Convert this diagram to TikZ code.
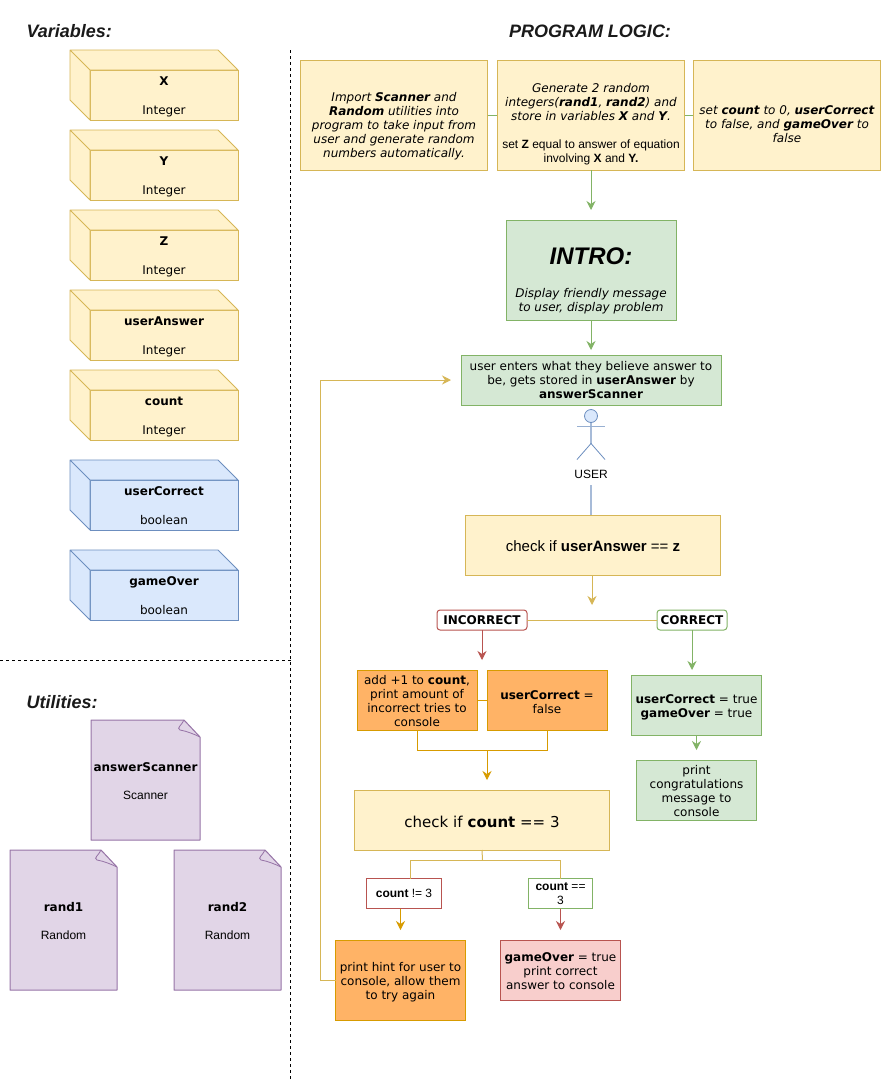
\documentclass[tikz,border=0pt]{standalone}
\usepackage{fontspec}
\setmainfont{DejaVu Sans}
\newfontfamily\helv{Liberation Sans}
\usetikzlibrary{arrows.meta,positioning,backgrounds}
\definecolor{yellowfill}{HTML}{FFF2CC}
\definecolor{yellowline}{HTML}{D6B656}
\definecolor{greenfill}{HTML}{D5E8D4}
\definecolor{greenline}{HTML}{82B366}
\definecolor{bluefill}{HTML}{DAE8FC}
\definecolor{blueline}{HTML}{6C8EBF}
\definecolor{purplefill}{HTML}{E1D5E7}
\definecolor{purpleline}{HTML}{9673A6}
\definecolor{redfill}{HTML}{F8CECC}
\definecolor{redline}{HTML}{B85450}
\definecolor{orangefill}{HTML}{FFB366}
\definecolor{orangeline}{HTML}{D79B00}
\definecolor{titleink}{HTML}{1A1A1A}

\begin{document}
\begin{tikzpicture}[x=1pt,y=-1pt,font=\fontsize{12}{14}\selectfont,
 base/.style={outer sep=0pt,inner sep=2pt,align=center,line width=1pt},
 yellowbox/.style={base,text depth=0pt,draw=yellowline,fill=yellowfill},
 greenbox/.style={base,text depth=0pt,draw=greenline,fill=greenfill},
 orangebox/.style={base,text depth=0pt,draw=orangeline,fill=orangefill},
 redbox/.style={base,text depth=0pt,draw=redline,fill=redfill},
 cubefront/.style={base,text depth=0pt,text height=38pt,minimum width=148pt,minimum height=50pt},
 sheet/.style={base,text depth=0pt,text height=39pt,minimum width=107pt,minimum height=140pt},
 result/.style={base,draw,fill=white,font=\fontsize{12}{14}\selectfont\bfseries,rounded corners=3pt,minimum height=20pt},
 tag/.style={base,draw,fill=white,font=\fontsize{12}{14}\selectfont\helv,minimum height=30pt},
 heading/.style={font=\fontsize{18}{20}\selectfont\helv\bfseries\itshape,text=titleink},
 arrow/.style={-{Stealth[length=9pt,width=9pt,inset=3pt]},line width=1pt,shorten >=10pt},
 link/.style={line width=1pt,yellowline}]
 \useasboundingbox (0,0) rectangle (881,1082);
 \node[heading,anchor=west] (varstitle) at (23,31) {Variables:};
 \node[heading,anchor=west] (utiltitle) at (23,702) {Utilities:};
 \node[heading] (logictitle) at (590,31) {PROGRAM LOGIC:};
 \draw[dash pattern=on 3pt off 3pt] (290.5,50) -- (290.5,1082); \draw[dash pattern=on 3pt off 3pt] (0,660.5) -- (290.5,660.5);

 \node[yellowbox,cubefront] (vx) at (164,95) {\textbf{X}\\[15pt]Integer};
 \node[yellowbox,cubefront,below=30pt of vx] (vy) {\textbf{Y}\\[15pt]Integer};
 \node[yellowbox,cubefront,below=30pt of vy] (vz) {\textbf{Z}\\[15pt]Integer};
 \node[yellowbox,cubefront,below=30pt of vz] (vanswer) {\textbf{userAnswer}\\[15pt]Integer};
 \node[yellowbox,cubefront,below=30pt of vanswer] (vcount) {\textbf{count}\\[15pt]Integer};
 \node[base,draw=blueline,fill=bluefill,cubefront,below=40pt of vcount] (vcorrect) {\textbf{userCorrect}\\[15pt]boolean};
 \node[base,draw=blueline,fill=bluefill,cubefront,below=40pt of vcorrect] (vover) {\textbf{gameOver}\\[15pt]boolean};
 \foreach \n/\f/\l in {vx/yellowfill/yellowline,vy/yellowfill/yellowline,vz/yellowfill/yellowline,vanswer/yellowfill/yellowline,vcount/yellowfill/yellowline,vcorrect/bluefill/blueline,vover/bluefill/blueline}
  \filldraw[fill=\f,draw=\l,line width=.8pt,line join=round] (\n.north west) -- ++(-20,-20) -- ++(148,0) -- (\n.north east) -- cycle (\n.north west) -- ++(-20,-20) -- ++(0,50) -- (\n.south west) -- cycle;

 \node[sheet,minimum width=109pt,minimum height=120pt] (scanner) at (145.5,780) {\textbf{answerScanner}\\[14pt]{\helv Scanner}};
 \node[sheet] (rand1) at (63.5,920) {\textbf{rand1}\\[14pt]{\helv Random}};
 \node[sheet] (rand2) at (227.5,920) {\textbf{rand2}\\[14pt]{\helv Random}};
 \begin{pgfonlayer}{background}
 \foreach \n in {scanner,rand1,rand2} {
  \filldraw[fill=purplefill,draw=purpleline,line width=1pt,line join=round] (\n.north west) -- ([shift={(-16,0)}]\n.north east) -- ([shift={(0,17)}]\n.north east) -- (\n.south east) -- (\n.south west) -- cycle;
  \draw[purpleline,line width=.8pt] ([shift={(-16,0)}]\n.north east) .. controls ([shift={(-18,5)}]\n.north east) and ([shift={(-24,8)}]\n.north east) .. ([shift={(-20,10)}]\n.north east) .. controls ([shift={(-14,11)}]\n.north east) and ([shift={(-6,14)}]\n.north east) .. ([shift={(0,17)}]\n.north east);
 }
 \end{pgfonlayer}

 \node[yellowbox,text height=84.5pt,minimum width=187.5pt,minimum height=110pt] (imports) at (394,115) {\textit{Import \textbf{Scanner} and}\\\textit{\textbf{Random} utilities into}\\\textit{program to take input from}\\\textit{user and generate random}\\\textit{numbers automatically.}};
 \node[yellowbox,text height=95.5pt,minimum width=187.5pt,minimum height=110pt,right=9.5pt of imports] (generate) {\textit{Generate 2 random}\\\textit{integers(\textbf{rand1}, \textbf{rand2}) and}\\\textit{store in variables \textbf{X} and \textbf{Y}.}\\[14pt]{\helv set \textbf{Z} equal to answer of equation}\\{\helv involving \textbf{X} and \textbf{Y.}}};
 \node[yellowbox,text height=55.5pt,minimum width=187.5pt,minimum height=110pt,right=8.5pt of generate] (setup) {\textit{set \textbf{count} to 0, \textbf{userCorrect}}\\\textit{to false, and \textbf{gameOver} to}\\\textit{false}};
 \node[greenbox,text height=83pt,minimum width=170pt,minimum height=100pt,below=50pt of generate] (intro) {{\fontsize{24}{28}\selectfont\helv\bfseries\itshape INTRO:}\\[19pt]\textit{Display friendly message}\\\textit{to user, display problem}};
 \node[greenbox,minimum width=260pt,minimum height=50pt,below=35pt of intro] (entry) {user enters what they believe answer to\\be, gets stored in \textbf{userAnswer} by\\\textbf{answerScanner}};
 \node[circle,draw=blueline,fill=bluefill,line width=.8pt,minimum size=13pt,inner sep=0pt,outer sep=0pt,below=4.5pt of entry] (head) {};
 \node[font=\fontsize{12}{14}\selectfont\helv,inner sep=0pt,below=47pt of head] (userlabel) {USER};
 \draw[blueline!60,line width=1.5pt] (head.south) -- ++(0,21);
 \draw[blueline!70,line width=1pt] ([shift={(-14,4)}]head.south) -- ([shift={(14,4)}]head.south);
 \draw[blueline,line width=.8pt] ([shift={(-14,37)}]head.south) -- ([shift={(0,21)}]head.south) -- ([shift={(14,37)}]head.south);
 \node[yellowbox,text height=13pt,minimum width=255pt,minimum height=60pt,below=110pt of entry,xshift=2pt,font=\fontsize{15}{17}\selectfont\helv] (checkanswer) {check if \textbf{userAnswer} == \textbf{z}};
 \draw[blueline!60,line width=1.5pt] (userlabel.south |- 0,485) -- (userlabel.south |- checkanswer.north);
 \node[result,draw=redline,minimum width=90pt,below=35pt of checkanswer,xshift=-111pt] (incorrect) {INCORRECT};
 \node[result,draw=greenline,minimum width=70pt,right=130pt of incorrect] (correct) {CORRECT};
 \node[orangebox,text height=53.5pt,minimum width=120pt,minimum height=60pt,below=40pt of incorrect,xshift=-65pt] (addcount) {add +1 to \textbf{count},\\print amount of\\incorrect tries to\\console};
 \node[orangebox,text height=26pt,minimum width=120pt,minimum height=60pt,right=10pt of addcount] (setfalse) {\textbf{userCorrect} =\\false};
 \node[greenbox,text height=24pt,minimum width=130pt,minimum height=60pt,below=45pt of correct,xshift=4.5pt] (settrue) {\textbf{userCorrect} = true\\\textbf{gameOver} = true};
 \node[greenbox,text height=53.5pt,minimum width=120pt,minimum height=60pt,below=25pt of settrue] (congrats) {print\\congratulations\\message to\\console};
 \node[yellowbox,text height=14pt,minimum width=255pt,minimum height=60pt,below=60pt of addcount,xshift=65pt,font=\fontsize{15}{17}\selectfont] (checkcount) {check if \textbf{count} == 3};
 \node[tag,draw=redline,minimum width=74.5pt,below=28.5pt of checkcount,xshift=-78pt] (notthree) {\textbf{count} != 3};
 \node[tag,draw=greenline,minimum width=64.5pt,below=28.5pt of checkcount,xshift=78.5pt] (three) {\textbf{count} ==\\3};
 \node[orangebox,text height=39pt,minimum width=130pt,minimum height=80pt,below=31.5pt of notthree,xshift=-3.5pt] (hint) {print hint for user to\\console, allow them\\to try again};
 \node[redbox,text height=38pt,minimum width=120.5pt,minimum height=60pt,below=31.5pt of three] (gameover) {\textbf{gameOver} = true\\print correct\\answer to console};

 \coordinate (branch) at (592,610); \coordinate (merge) at (487,750); \coordinate (split) at (482.5,860); \coordinate (looptop) at (320.5,380);
 \draw[greenline,line width=1pt] (imports) -- (generate); \draw[greenline,line width=1pt] (generate) -- (setup);
 \draw[arrow,greenline] (generate) -- (intro); \draw[arrow,greenline,shorten >=5pt] (intro) -- (entry);
 \draw[arrow,yellowline,shorten >=5pt] (checkanswer.south -| branch) -- (branch);
 \draw[link] (incorrect) -- (correct);
 \draw[arrow,redline] (incorrect) -- (incorrect |- addcount.north); \draw[arrow,greenline,shorten >=5pt] (correct) -- (correct |- settrue.north);
 \draw[arrow,greenline] (settrue) -- (congrats);
 \draw[orangeline,line width=1pt] (addcount) -- (setfalse);
 \draw[orangeline,line width=1pt] (addcount.south) |- (merge) -| (setfalse.south);
 \draw[arrow,orangeline] (merge) -- (merge |- checkcount.north);
 \draw[link] (checkcount.south) -- (split);
 \draw[link] (split) -| ([xshift=6pt]notthree.north);
 \draw[link] (split) -| (three.north);
 \draw[arrow,orangeline] (notthree.south -| hint.north) -- (hint.north);
 \draw[arrow,redline] (three.south -| gameover.north) -- (gameover.north);
 \draw[link] (hint.west) -| (looptop);
 \draw[arrow,yellowline] (looptop) -- (entry.west);
\end{tikzpicture}
\end{document}
